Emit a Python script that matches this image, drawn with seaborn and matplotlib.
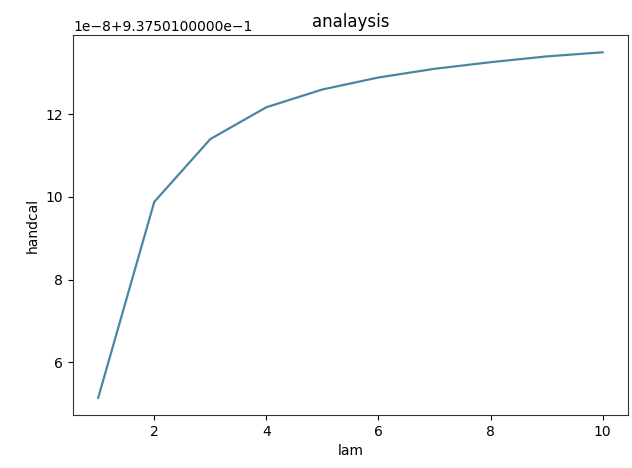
import matplotlib
matplotlib.use("Agg")
import matplotlib.pyplot as plt
from matplotlib.ticker import ScalarFormatter
import seaborn as sns
import numpy as np
import pandas as pd

lam = [1, 2, 3, 4, 5, 6, 7, 8, 9, 10]
base = 0.937501
delta_1e8 = [5.14, 9.88, 11.40, 12.17, 12.60, 12.89, 13.10, 13.26, 13.40, 13.50]
handcal = [base + d * 1e-8 for d in delta_1e8]

df = pd.DataFrame({"lam": lam, "handcal": handcal})


class LongOffsetFormatter(ScalarFormatter):
    def get_offset(self):
        if len(self.locs) == 0:
            return ""
        parts = []
        if self.orderOfMagnitude:
            parts.append(f"1e{self.orderOfMagnitude}")
        if self.offset:
            exp = int(np.floor(np.log10(abs(self.offset))))
            mant = self.offset / 10 ** exp
            sign = "+" if self.offset > 0 else "-"
            parts.append(f"{sign}{mant:.10f}e{exp}")
        return "".join(parts).replace("-", "\u2212")


fig = plt.figure(figsize=(6.32, 4.68), dpi=100)
ax = fig.add_axes([0.1155, 0.1132, 0.878, 0.812])
sns.lineplot(data=df, x="lam", y="handcal", ax=ax, color="#4a86a3", linewidth=1.6)
ax.yaxis.set_major_formatter(LongOffsetFormatter())
ax.set_title("analaysis")
ax.set_xlabel("lam")
ax.set_ylabel("handcal")
for s in ax.spines.values():
    s.set_color("#333333")
fig.savefig("out.png", dpi=100)
